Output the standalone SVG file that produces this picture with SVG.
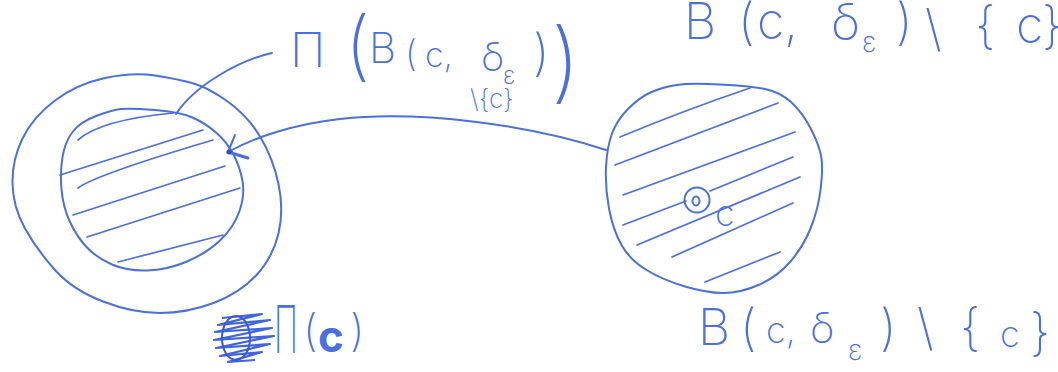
<svg xmlns="http://www.w3.org/2000/svg" width="1058" height="372" viewBox="0 0 1058 372">
<style>
.ln{fill:none;stroke:#4a6fe0;stroke-width:2;stroke-linecap:round;stroke-linejoin:round}
.ht{fill:none;stroke:#4a6fe0;stroke-width:1.7;stroke-linecap:round}
.hw{fill:#4a6fe0;font-family:Inter,"Open Sans","Liberation Sans",sans-serif;font-weight:200}
</style>
<rect width="1058" height="372" fill="#ffffff"/>
<g id="node-left">
<path class="ln" d="M155,75.5 Q177,79 192,83 Q207,87 227,101 Q247,115 260,136.5 Q273,158 278.5,184 Q284,210 278.5,233.5 Q273,257 256.5,275 Q240,293 213.5,303 Q187,313 160,313 Q133,313 103,301.5 Q73,290 55,270 Q37,250 25,228.5 Q13,207 12.5,183.5 Q12,160 22.5,138.5 Q33,117 55,100.5 Q77,84 105,78 Q133,72 155,75.5 Z"/>
<path class="ln" d="M155,110 Q180,112 192.5,117.5 Q205,123 216,132.5 Q227,142 233.5,154.5 Q240,167 242.5,181 Q245,195 239.5,211 Q234,227 220.5,240 Q207,253 187,261.5 Q167,270 147,270.5 Q127,271 112,264.5 Q97,258 87,247.5 Q77,237 70,222 Q63,207 61.5,189.5 Q60,172 62.5,157 Q65,142 72.5,132 Q80,122 96,116 Q112,110 121,109 Q130,108 155,110 Z"/>
<path class="ht" d="M78,140 Q100,120 173,113"/>
<path class="ht" d="M60,175 L203,130"/>
<path class="ht" d="M78,188 Q95,175 213,140"/>
<path class="ht" d="M73,215 L225,166"/>
<path class="ht" d="M87,237 L240,188"/>
<path class="ht" d="M118,262 L223,235"/>
</g>
<g id="node-right">
<path class="ln" d="M720,84.5 Q750,86 765,89 Q780,92 791.5,102.5 Q803,113 811.5,130 Q820,147 821.5,158.5 Q823,170 820.5,190 Q818,210 810.5,228.5 Q803,247 790,262 Q777,277 758.5,285 Q740,293 723.5,293 Q707,293 685,286.5 Q663,280 646.5,270 Q630,260 621.5,245 Q613,230 609,208.5 Q605,187 606,167 Q607,147 612,133.5 Q617,120 628.5,108.5 Q640,97 651.5,92 Q663,87 676.5,85 Q690,83 720,84.5 Z"/>
<path class="ht" d="M620,137 Q685,110 750,88"/>
<path class="ht" d="M615,165 L778,103"/>
<path class="ht" d="M623,195 L795,132"/>
<path class="ht" d="M623,225 L686,201"/>
<path class="ht" d="M710,191 L793,157"/>
<path class="ht" d="M637,245 L800,177"/>
<path class="ht" d="M672,257 L793,203"/>
<path class="ht" d="M705,282 L780,252"/>
<circle class="ln" cx="697" cy="200" r="12.5"/>
<ellipse class="ln" cx="696" cy="201" rx="3.5" ry="4.5"/>
<text class="hw" x="715" y="226" font-size="36">c</text>
</g>
<g id="connectors">
<path class="ln" d="M272,53 C240,60 195,85 176,114"/>
<path class="ln" d="M606,150 C530,125 420,110 340,119 C295,124 255,137 228,152"/>
<path class="ln" d="M235,135 L228,152"/>
<path class="ln" d="M228,152 L248,158" style="stroke-width:3"/>
<circle cx="229" cy="152" r="2.5" fill="#3050c0"/>
</g>
<g id="label-image">
<text class="hw"><tspan x="290" y="67" font-size="48">Π</tspan><tspan x="345" y="72" font-size="76">(</tspan><tspan x="369" y="63" font-size="42">B</tspan><tspan x="405" y="66" font-size="36">(</tspan><tspan x="425" y="67" font-size="34">c, </tspan><tspan x="481" y="71" font-size="40">δ</tspan><tspan x="503" y="84" font-size="24">ε</tspan><tspan x="533" y="70" font-size="50">)</tspan><tspan x="470" y="108" font-size="26">\{c}</tspan><tspan x="551" y="92" font-size="88">)</tspan></text>
</g>
<g id="label-top-right">
<text class="hw" font-size="50"><tspan x="684" y="39">B</tspan><tspan x="738" y="39">(</tspan><tspan x="757" y="39">c, </tspan><tspan x="831" y="40">δ</tspan><tspan x="862" y="52" font-size="28">ε</tspan><tspan x="896" y="39">) </tspan><tspan x="925" y="46">\ </tspan><tspan x="975" y="43">{</tspan><tspan x="1016" y="43">c</tspan><tspan x="1042" y="43">}</tspan></text>
</g>
<g id="label-bottom-right">
<text class="hw" font-size="50"><tspan x="698" y="345">B</tspan><tspan x="740" y="345">(</tspan><tspan x="766" y="343" font-size="36">c, </tspan><tspan x="810" y="343" font-size="42">δ</tspan><tspan x="848" y="360" font-size="28">ε</tspan><tspan x="880" y="345">) </tspan><tspan x="917" y="345">\ </tspan><tspan x="960" y="345">{</tspan><tspan x="1000" y="347" font-size="36">c</tspan><tspan x="1030" y="350">}</tspan></text>
</g>
<g id="label-bottom-left">
<path d="M222,318 L262,314 L218,325 L270,320 L215,332 L272,328 L214,340 L274,336 L216,348 L270,344 L220,356 L262,352 L228,362 L255,360" fill="none" stroke="#4065dc" stroke-width="2.2" stroke-linejoin="round"/>
<ellipse cx="236" cy="338" rx="14" ry="22" fill="none" stroke="#3a5ad0" stroke-width="2"/>
<text class="hw"><tspan x="274" y="353" font-size="66" textLength="24" lengthAdjust="spacingAndGlyphs">Π</tspan><tspan x="303" y="346" font-size="44">(</tspan><tspan x="318" y="352" font-size="44" font-weight="700">c</tspan><tspan x="350" y="346" font-size="44">)</tspan></text>
</g>
</svg>
